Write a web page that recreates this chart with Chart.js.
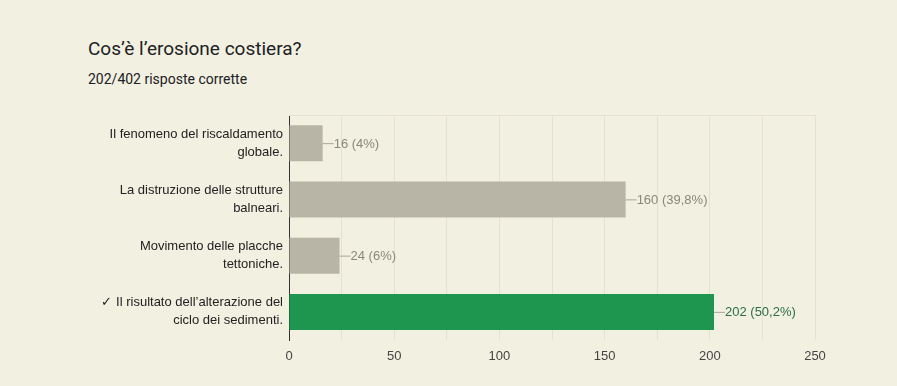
<!DOCTYPE html>
<html>
<head>
<meta charset="utf-8">
<script src="https://cdn.jsdelivr.net/npm/chart.js@4"></script>
<style>
  html, body { margin: 0; padding: 0; background: #f2f0e1; }
  #wrap { position: relative; width: 897px; height: 386px; overflow: hidden; }
  #title { position: absolute; left: 88px; top: 37px; font: 19px Roboto, Arial, sans-serif; color: #202124; }
  #subtitle { position: absolute; left: 88px; top: 71px; font: 14px Roboto, Arial, sans-serif; color: #202124; }
  canvas { position: absolute; left: 0; top: 0; }
</style>
</head>
<body>
<div id="wrap">
  <div id="title">Cos’è l’erosione costiera?</div>
  <div id="subtitle">202/402 risposte corrette</div>
  <canvas id="quizChart" width="897" height="386"></canvas>
</div>
<script>
// Data
const categories = [
  ['Il fenomeno del riscaldamento', 'globale.'],
  ['La distruzione delle strutture', 'balneari.'],
  ['Movimento delle placche', 'tettoniche.'],
  ['✓ Il risultato dell’alterazione del', 'ciclo dei sedimenti.']
];
const answerCounts = [16, 160, 24, 202];
const answerLabels = ['16 (4%)', '160 (39,8%)', '24 (6%)', '202 (50,2%)'];
const correctIndex = 3;
const xTicks = [0, 50, 100, 150, 200, 250];

const grayBar = '#b8b5a7';
const greenBar = '#1e9650';
const chartFont = '"Liberation Sans", Arial, sans-serif';

Chart.defaults.font.family = chartFont;

// leader line + value label to the right of each bar
const valueLabels = {
  id: 'valueLabels',
  afterDatasetsDraw(chart) {
    const ctx = chart.ctx;
    const meta = chart.getDatasetMeta(0);
    ctx.save();
    ctx.font = '13px ' + chartFont;
    ctx.textBaseline = 'middle';
    meta.data.forEach((bar, i) => {
      const x = bar.x;
      const y = bar.y;
      ctx.strokeStyle = '#a9a69a';
      ctx.lineWidth = 1;
      ctx.beginPath();
      ctx.moveTo(x, y + 0.5);
      ctx.lineTo(x + 11, y + 0.5);
      ctx.stroke();
      ctx.fillStyle = i === correctIndex ? '#2b6e45' : '#8a877c';
      ctx.fillText(answerLabels[i], x + 11, y + 1);
    });
    ctx.restore();
  }
};

new Chart(document.getElementById('quizChart'), {
  type: 'bar',
  data: {
    labels: categories,
    datasets: [{
      data: answerCounts,
      backgroundColor: answerCounts.map((v, i) => i === correctIndex ? greenBar : grayBar),
      borderWidth: 0,
      barPercentage: 0.8,
      categoryPercentage: 0.8
    }]
  },
  options: {
    indexAxis: 'y',
    responsive: false,
    animation: false,
    layout: { padding: { top: 115, right: 82, bottom: 0, left: 0 } },
    plugins: {
      legend: { display: false },
      tooltip: { enabled: false }
    },
    scales: {
      x: {
        min: 0,
        max: 250,
        afterBuildTicks(scale) {
          const t = [];
          for (let v = 0; v <= 250; v += 25) t.push({ value: v });
          scale.ticks = t;
        },
        afterFit(scale) { scale.height = 46; },
        grid: { color: '#e4e1d1', drawTicks: false },
        border: { display: false },
        ticks: {
          padding: 9,
          color: '#444',
          font: { size: 13 },
          autoSkip: false,
          maxRotation: 0,
          callback: (v) => xTicks.includes(v) ? String(v) : ''
        }
      },
      y: {
        afterFit(scale) { scale.width = 289; },
        grid: { display: false, drawTicks: false },
        border: { display: true, color: '#333', width: 1 },
        ticks: {
          padding: 6,
          color: '#222',
          font: { size: 13, lineHeight: 1.38 }
        }
      }
    }
  },
  plugins: [valueLabels, {
    id: 'plotFrame',
    beforeDatasetsDraw(chart) {
      const { ctx, chartArea: a } = chart;
      ctx.save();
      ctx.strokeStyle = '#e4e1d1';
      ctx.beginPath();
      ctx.moveTo(a.left, a.top + 0.5);
      ctx.lineTo(a.right, a.top + 0.5);
      ctx.stroke();
      ctx.restore();
    }
  }]
});
</script>
</body>
</html>
